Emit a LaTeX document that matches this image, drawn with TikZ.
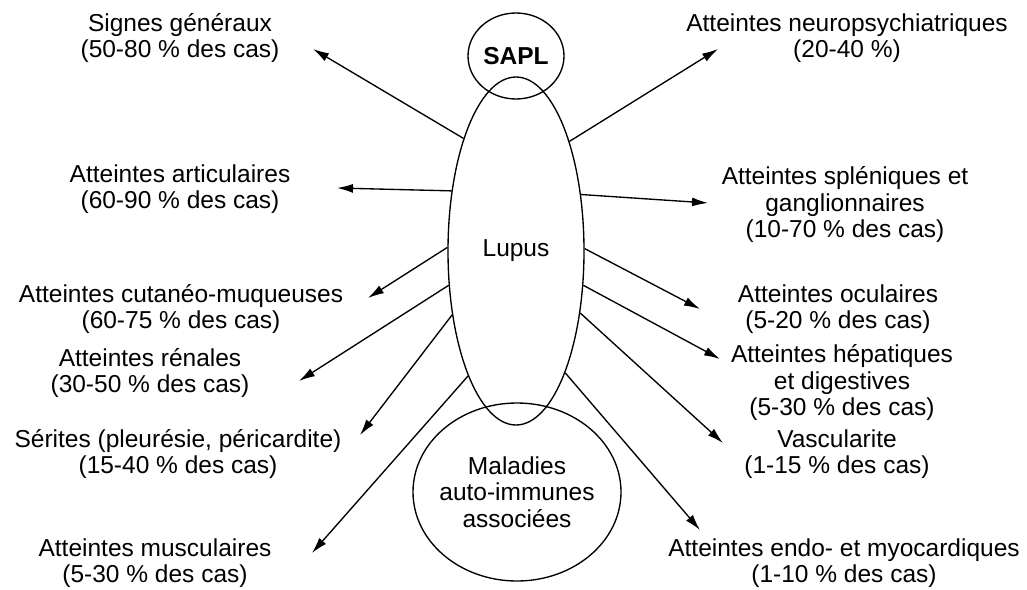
\documentclass[tikz,border=0pt]{standalone}
\usepackage{fontspec}
\setmainfont{Liberation Sans}
\usetikzlibrary{shapes.geometric,arrows.meta}

\begin{document}
\begin{tikzpicture}[x=1pt,y=-1pt,line width=1.35pt]
\tikzstyle{every node}+=[inner sep=0pt]
\tikzstyle{txt}=[align=center,font=\fontsize{24.5}{26.5}\selectfont]
\tikzstyle{oval}=[draw,ellipse,txt]
\tikzstyle{fleche}=[-{Latex[length=16pt,width=9pt]}]
\useasboundingbox (0,0) rectangle (1027,589);
% centre
\node [oval,minimum width=136,minimum height=348] (lupus) at (516,251) {Lupus};
\node [oval,minimum width=96,minimum height=86,font=\fontsize{24.5}{26.5}\selectfont\bfseries] (sapl) at (516,56) {SAPL};
\node [oval,minimum width=208,minimum height=178,label={[txt]center:Maladies\\auto-immunes\\associées}] (mai) at (517,492) {};
% textes gauche
\node [txt] (sig) at (180,38) {Signes généraux\\(50-80 \% des cas)};
\node [txt] (art) at (180,189) {Atteintes articulaires\\(60-90 \% des cas)};
\node [txt] (cut) at (181,309) {Atteintes cutanéo-muqueuses\\(60-75 \% des cas)};
\node [txt] (ren) at (150,373) {Atteintes rénales\\(30-50 \% des cas)};
\node [txt] (ser) at (178,454) {Sérites (pleurésie, péricardite)\\(15-40 \% des cas)};
\node [txt] (mus) at (155,563) {Atteintes musculaires\\(5-30 \% des cas)};
% textes droite
\node [txt] (neu) at (847,38) {Atteintes neuropsychiatriques\\(20-40 \%)};
\node [txt] (spl) at (845,205) {Atteintes spléniques et\\ganglionnaires\\(10-70 \% des cas)};
\node [txt] (ocu) at (838,309) {Atteintes oculaires\\(5-20 \% des cas)};
\node [txt] (hep) at (842,383) {Atteintes hépatiques\\et digestives\\(5-30 \% des cas)};
\node [txt] (vas) at (837,454) {Vascularite\\(1-15 \% des cas)};
\node [txt] (end) at (844,563) {Atteintes endo- et myocardiques\\(1-10 \% des cas)};
% pointes
\coordinate (tsig) at (313,49);
\coordinate (tart) at (337,188);
\coordinate (tcut) at (368,298);
\coordinate (tren) at (299,381);
\coordinate (tser) at (360,435);
\coordinate (tmus) at (312,553);
\coordinate (tneu) at (718,49);
\coordinate (tspl) at (708,203);
\coordinate (tocu) at (700,309);
\coordinate (thep) at (720,359);
\coordinate (tvas) at (723,443);
\coordinate (tend) at (700,530);
% fleches
\draw [fleche] (lupus.115.5) -- (tsig);
\draw [fleche] (lupus.137.3) -- (tart);
\draw [fleche] (lupus.177.5) -- (tcut);
\draw [fleche] (lupus.207.2) -- (tren);
\draw [fleche] (lupus.225) -- (tser);
\draw [fleche] (lupus.249.2) -- (tmus);
\draw [fleche] (lupus.64.3) -- (tneu);
\draw [fleche] (lupus.41.8) -- (tspl);
\draw [fleche] (lupus.2.6) -- (tocu);
\draw [fleche] (lupus.-27.6) -- (thep);
\draw [fleche] (lupus.-44.1) -- (tvas);
\draw [fleche] (lupus.-68.7) -- (tend);
\end{tikzpicture}
\end{document}
